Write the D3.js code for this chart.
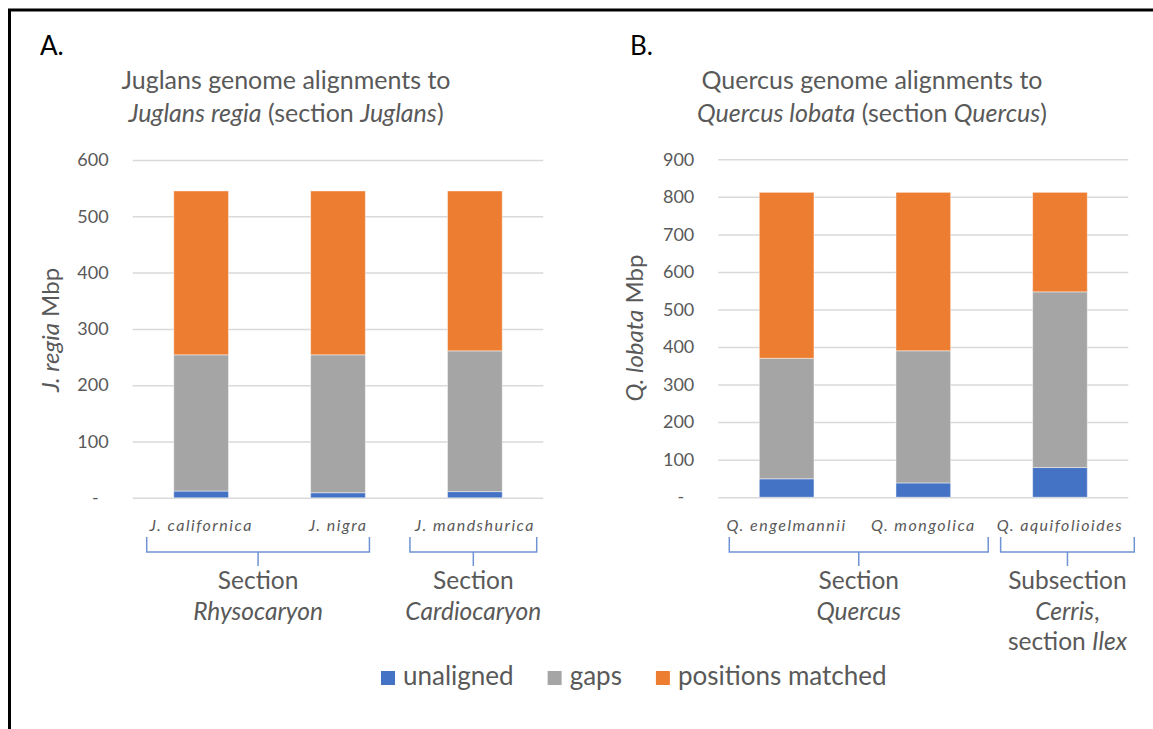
<!DOCTYPE html>
<html>
<head>
<meta charset="utf-8">
<script src="https://cdn.jsdelivr.net/npm/d3@7"></script>
<style>
  html, body { margin: 0; padding: 0; background: #fff; }
  svg { display: block; font-family: Lato, "Open Sans", sans-serif; }
</style>
</head>
<body>
<svg id="chart" width="1153" height="729"></svg>
<script>
// ---------------- DATA ----------------
const seriesNames = ["unaligned", "gaps", "positions matched"];
const seriesColors = ["#4472C4", "#A5A5A5", "#ED7D31"];

const juglansCategories = ["J. californica", "J. nigra", "J. mandshurica"];
const juglansUnaligned = [12, 9, 11];
const juglansGaps = [242, 245, 250];
const juglansMatched = [291, 291, 284];
const juglansTicks = [0, 100, 200, 300, 400, 500, 600];

const quercusCategories = ["Q. engelmannii", "Q. mongolica", "Q. aquifolioides"];
const quercusUnaligned = [49, 38, 79];
const quercusGaps = [321, 352, 468];
const quercusMatched = [442, 422, 265];
const quercusTicks = [0, 100, 200, 300, 400, 500, 600, 700, 800, 900];

// groups: [first category index, last category index]
const juglansGroups = [[0, 1], [2, 2]];
const quercusGroups = [[0, 1], [2, 2]];

// ---------------- DRAW ----------------
const svg = d3.select("#chart");
const TEXT = "#595959";
const GRID = "#D9D9D9";
const BRACKET = "#6F93D3";

// outer frame
svg.append("path")
  .attr("d", "M9.5,740 L9.5,10 L1160,10")
  .attr("fill", "none").attr("stroke", "#000").attr("stroke-width", 3);

function addRich(textSel, parts) {
  parts.forEach(p => {
    textSel.append("tspan").text(p[0]).attr("font-style", p[1] ? "italic" : "normal");
  });
}

function drawPanel(cfg) {
  const g = svg.append("g");
  const x = d3.scaleBand().domain(cfg.categories).range(cfg.xRange).paddingInner(0.6).paddingOuter(0.3);
  const y = d3.scaleLinear().domain([0, cfg.ticks[cfg.ticks.length - 1]]).range(cfg.yRange);

  // panel letter
  g.append("text").attr("x", cfg.letterX).attr("y", 55).attr("font-size", 26).attr("fill", "#000")
    .text(cfg.letter);

  // title
  const t1 = g.append("text").attr("x", cfg.titleX).attr("y", 89).attr("text-anchor", "middle")
    .attr("font-size", 25).attr("fill", TEXT);
  addRich(t1, cfg.title1);
  const t2 = g.append("text").attr("x", cfg.titleX).attr("y", 122).attr("text-anchor", "middle")
    .attr("font-size", 25).attr("fill", TEXT);
  addRich(t2, cfg.title2);

  // gridlines + tick labels via axis
  const axis = d3.axisLeft(y).tickValues(cfg.ticks)
    .tickSize(-(cfg.xRange[1] - cfg.xRange[0]))
    .tickPadding(24)
    .tickFormat(d => d === 0 ? "-" : d3.format("d")(d));
  const ag = g.append("g").attr("transform", `translate(${cfg.xRange[0]},0)`).call(axis);
  ag.select(".domain").remove();
  ag.selectAll(".tick line").attr("stroke", GRID).attr("stroke-width", 1.5);
  ag.selectAll(".tick text").attr("fill", TEXT).attr("font-size", 18).attr("font-family", "Lato");
  ag.selectAll(".tick text").filter(d => d === 0).attr("dx", -10);

  // stacked bars
  const rows = cfg.categories.map((c, i) => ({
    cat: c, unaligned: cfg.unaligned[i], gaps: cfg.gaps[i], matched: cfg.matched[i]
  }));
  const stack = d3.stack().keys(["unaligned", "gaps", "matched"])(rows);
  g.append("g").selectAll("g").data(stack).join("g")
    .attr("fill", (d, i) => seriesColors[i])
    .selectAll("rect").data(d => d).join("rect")
    .attr("x", d => x(d.data.cat))
    .attr("width", x.bandwidth())
    .attr("y", d => y(d[1]))
    .attr("height", d => y(d[0]) - y(d[1]))
    .attr("stroke", "rgba(255,255,255,0.45)").attr("stroke-width", 1);

  // y axis title (rotated)
  const yt = g.append("text")
    .attr("transform", `translate(${cfg.yTitleX},${cfg.yTitleY}) rotate(-90)`)
    .attr("text-anchor", "middle").attr("font-size", 24).attr("fill", TEXT);
  addRich(yt, cfg.yTitle);

  // category labels
  g.append("g").selectAll("text").data(cfg.categories).join("text")
    .attr("x", d => x(d) + x.bandwidth() / 2)
    .attr("y", 531)
    .attr("text-anchor", "middle")
    .attr("font-size", 16).attr("font-style", "italic").attr("letter-spacing", 1.5)
    .attr("fill", TEXT).text(d => d);

  // group brackets
  const step = x.step();
  cfg.groups.forEach((gr, gi) => {
    const x0 = x(cfg.categories[gr[0]]) - step * 0.3 + cfg.bracketInsets[gi][0];
    const x1 = x(cfg.categories[gr[1]]) + x.bandwidth() + step * 0.3 - cfg.bracketInsets[gi][1];
    const xm = (x0 + x1) / 2;
    g.append("path")
      .attr("d", `M${x0},537 L${x0},552 L${x1},552 L${x1},537 M${xm},552 L${xm},566`)
      .attr("fill", "none").attr("stroke", BRACKET).attr("stroke-width", 1.5);
    cfg.groupLabels[gi].forEach((line, li) => {
      const tl = g.append("text").attr("x", xm).attr("y", 589 + li * 30.5)
        .attr("text-anchor", "middle").attr("font-size", 24.5).attr("fill", TEXT);
      addRich(tl, line);
    });
  });
}

drawPanel({
  letter: "A.", letterX: 40,
  categories: juglansCategories, unaligned: juglansUnaligned, gaps: juglansGaps, matched: juglansMatched,
  ticks: juglansTicks,
  xRange: [132.7, 543.3], yRange: [497.8, 160],
  titleX: 286,
  title1: [["Juglans genome alignments to", false]],
  title2: [["Juglans regia", true], [" (section ", false], ["Juglans", true], [")", false]],
  yTitle: [["J. regia", true], [" Mbp", false]], yTitleX: 59, yTitleY: 330,
  groups: juglansGroups,
  bracketInsets: [[14, 37], [3.5, 6.6]],
  groupLabels: [
    [[["Section", false]], [["Rhysocaryon", true]]],
    [[["Section", false]], [["Cardiocaryon", true]]]
  ]
});

drawPanel({
  letter: "B.", letterX: 630,
  categories: quercusCategories, unaligned: quercusUnaligned, gaps: quercusGaps, matched: quercusMatched,
  ticks: quercusTicks,
  xRange: [718.3, 1128.3], yRange: [497.2, 159.3],
  titleX: 872,
  title1: [["Quercus genome alignments to", false]],
  title2: [["Quercus lobata", true], [" (section ", false], ["Quercus", true], [")", false]],
  yTitle: [["Q. lobata", true], [" Mbp", false]], yTitleX: 643, yTitleY: 328,
  groups: quercusGroups,
  bracketInsets: [[11, 3.4], [9, -6]],
  groupLabels: [
    [[["Section", false]], [["Quercus", true]]],
    [[["Subsection", false]], [["Cerris", true], [",", false]], [["section ", false], ["Ilex", true]]]
  ]
});

// legend
const legend = svg.append("g");
let lx = 381;
seriesNames.forEach((name, i) => {
  legend.append("rect").attr("x", lx).attr("y", 671).attr("width", 14).attr("height", 14)
    .attr("fill", seriesColors[i]);
  const t = legend.append("text").attr("x", lx + 22).attr("y", 684.5).attr("font-size", 26)
    .attr("fill", TEXT).text(name);
  lx = lx + 22 + t.node().getComputedTextLength() + 34;
});
</script>
</body>
</html>
